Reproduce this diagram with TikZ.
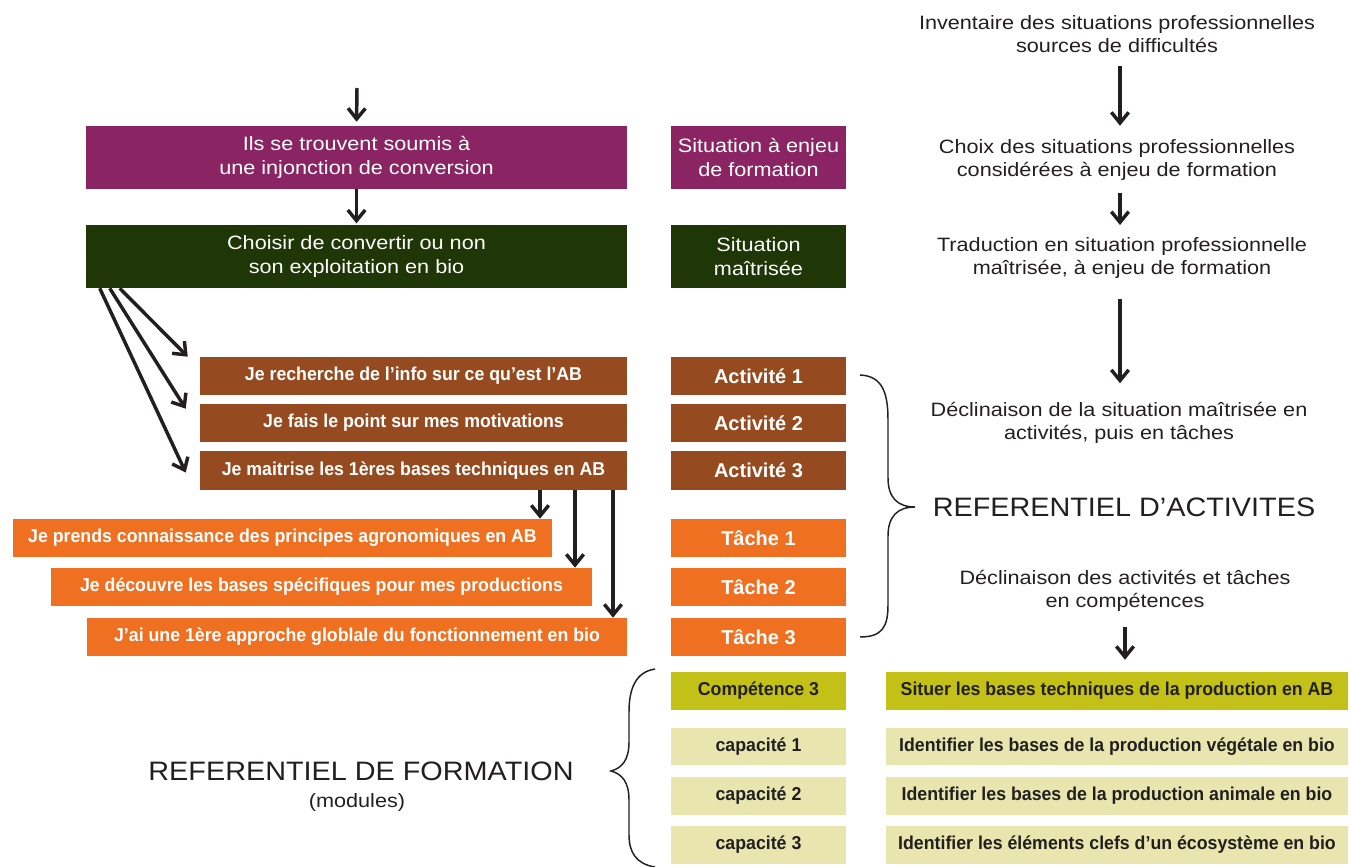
\documentclass[tikz,border=0pt]{standalone}
\usepackage{fontspec}
\setmainfont{Liberation Sans}[FakeStretch=1.12]
\newfontfamily\bldf{Liberation Sans}[FakeStretch=0.95]
\newfontfamily\lblf{Liberation Sans}[FakeStretch=1.0]
\newfontfamily\titf{Liberation Sans}[FakeStretch=1.08]
\usetikzlibrary{arrows.meta}
\definecolor{cPurple}{HTML}{8A2463}
\definecolor{cGreen}{HTML}{1F3607}
\definecolor{cBrown}{HTML}{954A1F}
\definecolor{cOrange}{HTML}{F07022}
\definecolor{cOlive}{HTML}{C3C117}
\definecolor{cLight}{HTML}{E8E6AE}
\definecolor{cText}{HTML}{231F20}
\newcommand\pbox[7]{\node[#6, minimum width={(#4-#2)*0.75pt}, minimum height={(#5-#3)*0.75pt}] (#1) at ({(#2+#4)/2},{(#3+#5)/2}) {#7};}
\begin{document}
\begin{tikzpicture}[x=0.75pt, y=-0.75pt,
  box/.style={inner sep=0pt, align=center, text=white, font=\fontsize{14.5}{17.5}\selectfont},
  bbox/.style={inner sep=0pt, align=center, text=white, font=\bldf\bfseries\fontsize{14}{17}\selectfont},
  lbox/.style={inner sep=0pt, align=center, text=white, font=\lblf\bfseries\fontsize{15}{17}\selectfont},
  dbox/.style={inner sep=0pt, align=center, text=cText, font=\bldf\bfseries\fontsize{14}{17}\selectfont},
  rtext/.style={inner sep=0pt, align=center, text=cText, font=\fontsize{14.5}{17.5}\selectfont},
  ttext/.style={inner sep=0pt, align=center, text=cText, font=\titf\fontsize{20}{24}\selectfont},
  arr/.style={draw=cText, line width=2.6pt, -{Straight Barb[length=8pt,width=13pt]}},
  brace/.style={draw=cText, line width=1.1pt}]
\useasboundingbox (0,0) rectangle (1350,867);
% left column
\pbox{purple}{86}{126}{627}{189}{box, fill=cPurple}{Ils se trouvent soumis à\\une injonction de conversion}
\pbox{green}{86}{225}{627}{288}{box, fill=cGreen}{Choisir de convertir ou non\\son exploitation en bio}
\pbox{a1}{200}{357}{627}{395}{bbox, fill=cBrown}{Je recherche de l’info sur ce qu’est l’AB}
\pbox{a2}{200}{404}{627}{442}{bbox, fill=cBrown}{Je fais le point sur mes motivations}
\pbox{a3}{200}{451}{627}{490}{bbox, fill=cBrown}{Je maitrise les 1ères bases techniques en AB}
\pbox{t1}{13}{519}{552}{557}{bbox, fill=cOrange}{Je prends connaissance des principes agronomiques en AB}
\pbox{t2}{51}{568}{592}{606}{bbox, fill=cOrange}{Je découvre les bases spécifiques pour mes productions}
\pbox{t3}{87}{618}{627}{656}{bbox, fill=cOrange}{J’ai une 1ère approche globlale du fonctionnement en bio}
% label column
\pbox{l1}{671}{126}{846}{189}{box, fill=cPurple}{Situation à enjeu\\de formation}
\pbox{l2}{671}{225}{846}{288}{box, fill=cGreen}{Situation\\maîtrisée}
\pbox{la1}{671}{357}{846}{395}{lbox, fill=cBrown}{Activité 1}
\pbox{la2}{671}{404}{846}{442}{lbox, fill=cBrown}{Activité 2}
\pbox{la3}{671}{451}{846}{490}{lbox, fill=cBrown}{Activité 3}
\pbox{lt1}{671}{519}{846}{557}{lbox, fill=cOrange}{Tâche 1}
\pbox{lt2}{671}{568}{846}{606}{lbox, fill=cOrange}{Tâche 2}
\pbox{lt3}{671}{618}{846}{656}{lbox, fill=cOrange}{Tâche 3}
\pbox{comp}{671}{672}{846}{710}{dbox, fill=cOlive}{Compétence 3}
\pbox{cap1}{671}{728}{846}{765}{dbox, fill=cLight}{capacité 1}
\pbox{cap2}{671}{777}{846}{815}{dbox, fill=cLight}{capacité 2}
\pbox{cap3}{671}{826}{846}{864}{dbox, fill=cLight}{capacité 3}
\pbox{sit}{886}{672}{1348}{710}{dbox, fill=cOlive}{Situer les bases techniques de la production en AB}
\pbox{id1}{886}{728}{1348}{765}{dbox, fill=cLight}{Identifier les bases de la production végétale en bio}
\pbox{id2}{886}{777}{1348}{815}{dbox, fill=cLight}{Identifier les bases de la production animale en bio}
\pbox{id3}{886}{826}{1348}{864}{dbox, fill=cLight}{Identifier les éléments clefs d’un écosystème en bio}
% right column texts
\node[rtext] (inv) at (1117,34) {Inventaire des situations professionnelles\\sources de difficultés};
\node[rtext] (choix) at (1117,160) {Choix des situations professionnelles\\considérées à enjeu de formation};
\node[rtext] (trad) at (1122,258) {Traduction en situation professionnelle\\maîtrisée, à enjeu de formation};
\node[rtext] (decl) at (1119,423) {Déclinaison de la situation maîtrisée en\\activités, puis en tâches};
\node[ttext] (refa) at (1124,507) {REFERENTIEL D’ACTIVITES};
\node[rtext] (decl2) at (1125,591) {Déclinaison des activités et tâches\\en compétences};
\node[ttext] (reff) at (361,771) {REFERENTIEL DE FORMATION};
\node[rtext] (mods) at (357,802) {(modules)};
% arrows right
\coordinate (rx) at (1120,0);
\draw[arr, shorten <=10pt, shorten >=10pt] (inv.south -| rx) -- (choix.north -| rx);
\draw[arr, shorten <=9pt, shorten >=9pt] (choix.south -| rx) -- (trad.north -| rx);
\draw[arr, shorten <=15pt, shorten >=14pt] (trad.south -| rx) -- (decl.north -| rx);
\draw[arr, shorten <=11pt, shorten >=9pt] (decl2.south) -- (decl2.south |- sit.north);
% arrows left
\coordinate (top) at (357,88);
\draw[arr, shorten >=3pt] (top) -- (purple.north);
\draw[arr, shorten >=1pt] (purple) -- (green);
\draw[arr] ([xshift=25.5pt]green.south west) -- ([xshift=-9pt]a1.north west);
\draw[arr] ([xshift=18pt]green.south west) -- ([xshift=-10.5pt,yshift=-3.75pt]a2.north west);
\draw[arr] ([xshift=10.5pt]green.south west) -- ([xshift=-10.5pt,yshift=-1.5pt]a3.west);
\coordinate (k1) at (540,0);
\coordinate (k2) at (575,0);
\coordinate (k3) at (613,0);
\draw[arr] (a3.south -| k1) -- (t1.north -| k1);
\draw[arr] (a3.south -| k2) -- (t2.north -| k2);
\draw[arr] (a3.south -| k3) -- (t3.north -| k3);
% braces
\draw[brace] (860,375) .. controls (882,376) and (888,392) .. (888,420) -- (888,478) .. controls (888,498) and (898,507) .. (915,507) .. controls (898,507) and (888,516) .. (888,536) -- (888,605) .. controls (888,627) and (882,637) .. (860,637);
\draw[brace] (655,669) .. controls (636,672) and (629,688) .. (629,712) -- (629,742) .. controls (629,760) and (622,768) .. (611,771) .. controls (622,774) and (629,782) .. (629,800) -- (629,835) .. controls (629,852) and (636,864) .. (655,867);
\end{tikzpicture}
\end{document}
